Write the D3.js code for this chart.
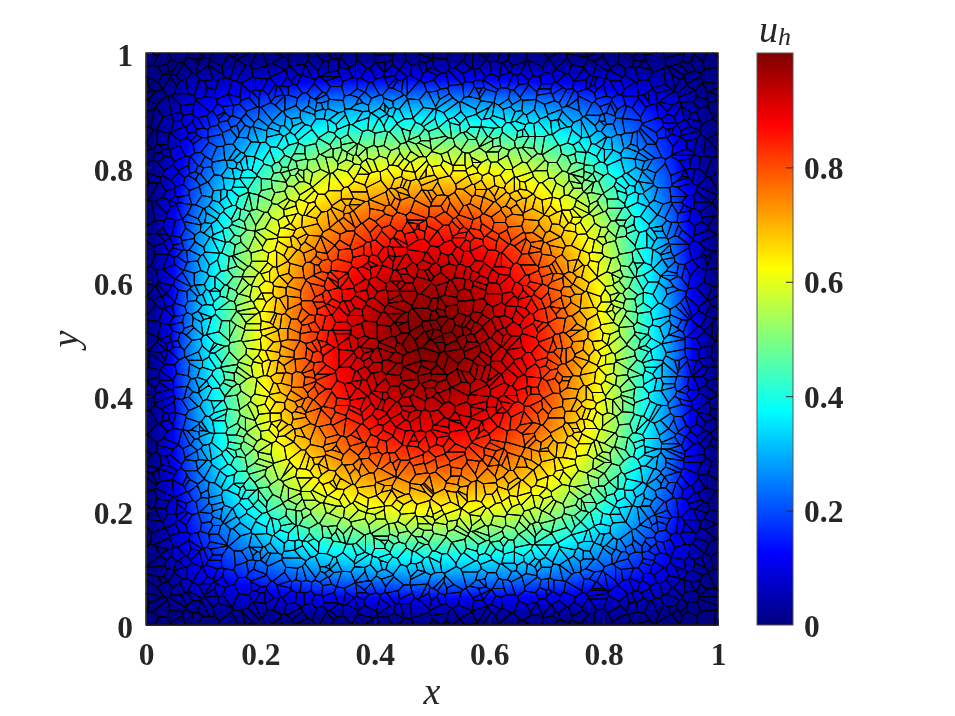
<!DOCTYPE html>
<html>
<head>
<meta charset="utf-8">
<script src="https://cdn.jsdelivr.net/npm/d3@7"></script>
<style>
html,body{margin:0;padding:0;background:#fff;overflow:hidden}
#wrap{position:relative;width:955px;height:716px}
canvas,svg{position:absolute;left:0;top:0}
text{font-family:"Liberation Serif",serif;fill:#262626}
.tick text{font-weight:bold;font-size:31.5px}
.math{font-style:italic;font-size:38px}
</style>
</head>
<body>
<div id="wrap"><canvas id="heat" width="955" height="716"></canvas><svg id="chart" width="955" height="716"></svg></div>
<script>
// u_h estimated from the picture's colours at 0.1 spacing (rows: y = 0..1, columns: x = 0..1).
const gridCoords = [0,0.1,0.2,0.3,0.4,0.5,0.6,0.7,0.8,0.9,1];
const fieldValues = [
 [0,0,0,0,0,0,0,0,0,0,0],
 [0,.12,.21,.28,.31,.32,.31,.28,.21,.12,0],
 [0,.21,.40,.54,.60,.62,.60,.54,.40,.21,0],
 [0,.28,.54,.70,.80,.83,.80,.70,.54,.28,0],
 [0,.31,.60,.80,.91,.95,.91,.80,.60,.31,0],
 [0,.33,.62,.83,.95,1,.95,.83,.62,.33,0],
 [0,.31,.60,.80,.91,.95,.91,.80,.60,.31,0],
 [0,.28,.54,.70,.80,.83,.80,.70,.54,.28,0],
 [0,.21,.40,.54,.60,.62,.60,.54,.40,.21,0],
 [0,.12,.21,.28,.31,.32,.31,.28,.21,.12,0],
 [0,0,0,0,0,0,0,0,0,0,0]
];
const xTicks = [0,0.2,0.4,0.6,0.8,1];
const yTicks = [0,0.2,0.4,0.6,0.8,1];
const barTicks = [0,0.2,0.4,0.6,0.8];
const jetStops = [0,0.125,0.375,0.625,0.875,1];
const jetColors = ["#00007f","#0000ff","#00ffff","#ffff00","#ff0000","#7f0000"];
// The mesh cells cannot be traced one by one. These hand-typed digit pairs only approximate
// the reference's cell size and irregularity; they are not its actual cell positions.
const meshCols = 54;
const meshJitter = [
"831470269915038274660192837745120968334871056229417380916552",
"407718293360541987225036149873614402957718360925184476302198",
"152690384477210659938146027753389016245598712463308951770264",
"968340127715592036684917253308146790552283914607731826495018",
"276015893344870612199523408776051483926617320984415769203851",
"540983162278316750490624871395182067433809926151743680257419",
"719264035881407329566038914217750496388123605794260318897542",
"083517946622935180474761302589904612738155467823091346728105",
"364892705110685243997215486030471985263386720149558027613974",
"927146358049320817655483096127638254109772014635986412053788",
"615038729488751603229906347151293874068345861027974315960224",
"490273861536148925077130628459862103547719420358696841257303",
"758601342997024568311849270356415963882170635492210776934185",
"132985470664397201856506138927740632519288451679034913627058",
"876324019550681437292143695078336197024645907832186024759631",
"241760958303794125688529074316853041676912368450772391805246",
"593018276447102863950867241935120784593360298146715034689172",
"308457192686145037229416580273967328401752093865241698030547",
"169742530891276304585930716482043569178824610397528145976320",
"724086315950438712963151829407296450381617852930464082731659",
"450371862126897524030762385194518037246990413658723109846275",
"983615027434052971688147602953664218905326789014357296180543",
"216890743558731240965409318726087365149273546608123574819036",
"647253098112498607353760241895329107486581029736415093278684",
"035971824660217543898532609147852496013744381920576128634095",
"892406137525680314971046783259106823754498213670951346207758",
"371568402984103769252978154036437091682150739468235807412916",
"506124897337495026183612809574925368047263180945376214598043",
"924780361505136872490354721968071249536817692350148063795217",
"148359067226890415733086254197523610984479105623827941036582",
"670235891484713209569741036825386954217032648917052368419730",
"293806174552048631978219567304641720895963127485396012785641",
"815472936003976245180563849127098345162754603289471650238379",
"467120583896324710592748016335217968403182957640135927864015",
"032698745171850364926015397482670241859346081725493168702596",
"751943608244273189650896214753904537126980345168726041937258",
"186027354995612048737430168925548219076312874953201687594360",
"924365780113740952869271503486160873429557196024388015732649",
"508719246380459671023896427150734912586603271845914360852197",
"376042918565128037496105873942284350671916470253680129547383",
"641895072317936245800742651389502168934477810396125478063291",
"290367514866403792158523907614975031426188265940731896423705",
"857124630943071586219360482755236749018592810367645023179486",
"413690287502764819536849017326108574293665432901879125360748",
"769250143680925731484076529813940126875307814263096538741902",
"025834976161480392757312864095673819042456197025283064917835",
"598713402226917048650594173682348760259131506274938457120693",
"342061789573285904116723950841107295368869340517262198036475",
"807495216330641827595831046729652910437278103659481246793058",
"163928570442709135268016384957340186529704962301785569203814",
"935640827116358920474297516038816437095232740985163086427591",
"480217396575026184939165720384651092873348917602354729180636",
"726158049343890765212043895761470368215996235147082614589370",
"059483612770964312858371042965283759146607521839430196827045",
"612840975336175028494826537019956104783224089756139473605182",
"387091264558439716202905468137041823695760316248957182036494",
"940576318221683094757158230946673295180438902615473509812760",
"254368791006927451383610874529817460325193547082961243768105",
"791023854665142380979263150847205968134376218095437856092413",
"508647129334056917282795406138963121870645729363810924751586",
"326195470887640253191083726459418375206932154787046135982607",
"673812045951279068344619038275136240798508963412579460218735",
"149270368625814790530374591682867012453293406185762839407516",
"895036412770362948156128304759520796138464927053186512943087",
"402769185338591624077840263915378129640751836240975063218469",
"637158920446027381595031647288941053762819270564183729650342",
"218540763991473605282697150834065832917473618905246108397765",
"954327016885103962437260984513729461850036495812730568142908",
"063896271450748213695412763089185390247662051397824913670254",
"781205943662936081574950321768403718562911436720598036245189",
"425670189233418957066182543907564026931888250469317205849713",
"196348572014870236951739068425912647380536789104582361047296",
"870921436556037482193246710958345190726601928375413869250731",
"341708265929315640787069482135276318059472916503267581094628",
"652097138404586127393815706249640785321957103486929046312875",
"018463925778240961531624589073182934670263570814786125390446",
"793526041860791345286390217645051768492318429650134782906513",
"264180597339058762140572394816937245018864012593726350148679",
"586712340951632804973460851279320917654142875360991243806527",
"139075286443270915687931648052764083129595046127838405719362",
"407928516360814276092175396844516372980623791534062958241037",
"825361047971596820346089473512198046735830264179504216730895",
"360749182556203498718423701695042357896917830465125078934612",
"971285063418467901325760382149683120457204518937696341208754",
"043618927535792016489210954783350946182776401523878462901536",
"618204375990138627546539180274821573609448265097310785143962",
"752469130883601947235896437015269081743315720864691023578406",
"206937845127458361099124680573947326018652304791885136072964",
"894173520666320794518063295487104759283973416258027489635101",
"135802674349786120953471806926658390174221937546063210849758",
"520648193776059341827293514068835102967346018249571786423095",
"967314082155241863700986372415072498631589420703316549180267",
"483069725218837510496154062839721863045967281345908207693514",
"276150498363590284171720948653309541726482106937552816430979",
"609821347545013672988361270549168097523724359018646072185331",
"352798016426187054392839561704276413089960375281421950736648",
"714063985202849631570245318976553120847138096427380615942803",
"098537214669326470815716092483840962571352741806925304186779"
].join("");

const plot = {left:146, right:718, top:53, bottom:625};
const bar = {left:757, right:793, top:53, bottom:625};

const xScale = d3.scaleLinear().domain([0,1]).range([plot.left,plot.right]);
const yScale = d3.scaleLinear().domain([0,1]).range([plot.bottom,plot.top]);
const barScale = d3.scaleLinear().domain([0,1]).range([bar.bottom,bar.top]);
const jet = d3.scaleLinear().domain(jetStops).range(jetColors).interpolate(d3.interpolateRgb).clamp(true);

// Smooth resampling of the read-off table for the raster shading.
function cr(a,b,c,d,t){return b+0.5*t*(c-a+t*(2*a-5*b+4*c-d+t*(3*(b-c)+d-a)));}
function sampleField(x,y){
  const n = gridCoords.length-1, fx = x*n, fy = y*n;
  const i = Math.min(n-1,Math.floor(fx)), j = Math.min(n-1,Math.floor(fy));
  const tx = fx-i, ty = fy-j, c = k=>Math.max(0,Math.min(n,k));
  const rows = [-1,0,1,2].map(dj=>{
    const r = fieldValues[c(j+dj)];
    return cr(r[c(i-1)],r[i],r[i+1],r[c(i+2)],tx);
  });
  return Math.max(0,cr(rows[0],rows[1],rows[2],rows[3],ty));
}

// Heat raster
const ctx = document.getElementById("heat").getContext("2d");
const pw = plot.right-plot.left, ph = plot.bottom-plot.top;
const img = ctx.createImageData(pw,ph);
for(let py=0;py<ph;py++)for(let px=0;px<pw;px++){
  const col = d3.rgb(jet(sampleField(xScale.invert(plot.left+px+.5),yScale.invert(plot.top+py+.5))));
  const o = (py*pw+px)*4;
  img.data[o]=col.r;img.data[o+1]=col.g;img.data[o+2]=col.b;img.data[o+3]=255;
}
ctx.putImageData(img,plot.left,plot.top);

const svg = d3.select("#chart");

// Mesh
const seeds = [];
for(let r=0;r<meshCols;r++)for(let c=0;c<meshCols;c++){
  const k = (r*meshCols+c)*2;
  const dx = +meshJitter[k], dy = +meshJitter[k+1];
  seeds.push([
    xScale((c+.5+(dx-4.5)/9*2)/meshCols),
    yScale((r+.5+(dy-4.5)/9*2)/meshCols)
  ]);
}
const voronoi = d3.Delaunay.from(seeds).voronoi([plot.left,plot.top,plot.right,plot.bottom]);
svg.append("g").selectAll("path").data(Array.from(voronoi.cellPolygons())).join("path")
  .attr("d",d=>"M"+d.join("L")+"Z")
  .attr("fill","none").attr("stroke","#000").attr("stroke-width",1.05).attr("stroke-linejoin","round");

// Axes
const axisX = svg.append("g").attr("transform",`translate(0,${plot.bottom})`)
  .call(d3.axisBottom(xScale).tickValues(xTicks).tickFormat(d3.format("~g")).tickSize(-6).tickPadding(18));
const axisY = svg.append("g").attr("transform",`translate(${plot.left},0)`)
  .call(d3.axisLeft(yScale).tickValues(yTicks).tickFormat(d3.format("~g")).tickSize(-6).tickPadding(13));
axisY.selectAll(".tick text").attr("dy","0.4em");
svg.append("rect").attr("x",plot.left).attr("y",plot.top).attr("width",pw).attr("height",ph)
  .attr("fill","none").attr("stroke","#262626").attr("stroke-width",1);
[axisX,axisY].forEach(a=>{a.selectAll("line,path").attr("stroke","#262626");a.attr("font-family",null).attr("font-size",null);});

// Colorbar
const grad = svg.append("defs").append("linearGradient").attr("id","jetGrad")
  .attr("x1",0).attr("x2",0).attr("y1",1).attr("y2",0);
grad.selectAll("stop").data(jetStops).join("stop")
  .attr("offset",d=>d).attr("stop-color",(d,i)=>jetColors[i]);
svg.append("rect").attr("x",bar.left).attr("y",bar.top).attr("width",bar.right-bar.left).attr("height",bar.bottom-bar.top)
  .attr("fill","url(#jetGrad)").attr("stroke","#555").attr("stroke-width",1);
const axisBar = svg.append("g").attr("transform",`translate(${bar.right},0)`)
  .call(d3.axisRight(barScale).tickValues(barTicks).tickFormat(d3.format("~g")).tickSize(-7).tickPadding(11));
axisBar.select(".domain").remove();
axisBar.selectAll("line").attr("stroke","#262626").filter(d=>d===0).remove();
axisBar.selectAll(".tick text").attr("dy","0.35em");
axisBar.attr("font-family",null).attr("font-size",null);

// Titles
svg.append("text").attr("class","math").attr("x",432).attr("y",704).attr("text-anchor","middle").text("x");
svg.append("text").attr("class","math").attr("transform","translate(78,339) rotate(-90)").attr("text-anchor","middle").text("y");
const ub = svg.append("text").attr("class","math").attr("x",759).attr("y",42);
ub.append("tspan").text("u");
ub.append("tspan").attr("dy",3).attr("font-size",26).text("h");
</script>
</body>
</html>
